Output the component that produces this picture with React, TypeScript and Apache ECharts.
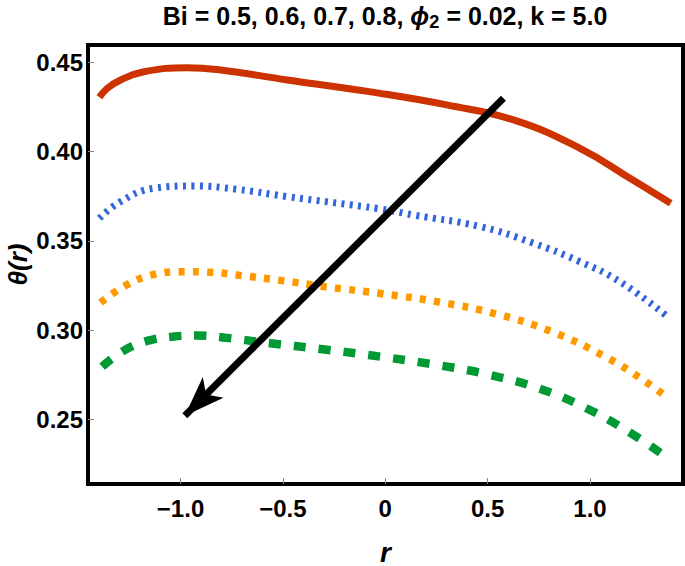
import { useEffect, useRef } from "react";
import * as echarts from "echarts";

// Bi = 0.5 (red, solid)
const rBi05 = [-1.396, -1.358, -1.293, -1.179, -0.968, -0.805, -0.479, -0.025, 0.3, 0.626, 0.951, 1.195, 1.394];
const thetaBi05 = [0.4305, 0.4355, 0.4402, 0.4448, 0.4471, 0.4458, 0.4402, 0.4327, 0.4262, 0.4178, 0.4019, 0.3851, 0.3711];
// Bi = 0.6 (blue, dotted)
const rBi06 = [-1.396, -1.293, -1.13, -0.935, -0.724, -0.479, -0.024, 0.137, 0.463, 0.723, 0.951, 1.146, 1.382];
const thetaBi06 = [0.3627, 0.372, 0.3795, 0.3808, 0.3789, 0.3748, 0.3679, 0.3645, 0.358, 0.3487, 0.3383, 0.3271, 0.3072];
// Bi = 0.7 (orange, dotted)
const rBi07 = [-1.391, -1.269, -1.139, -0.992, -0.854, -0.715, -0.504, -0.292, -0.016, 0.268, 0.544, 0.813, 1.073, 1.26, 1.382];
const thetaBi07 = [0.3154, 0.3249, 0.3309, 0.3327, 0.3324, 0.3307, 0.3277, 0.3243, 0.3204, 0.3156, 0.309, 0.2991, 0.2851, 0.272, 0.2618];
// Bi = 0.8 (green, dashed)
const rBi08 = [-1.383, -1.277, -1.163, -1.041, -0.919, -0.805, -0.561, -0.317, -0.081, 0.276, 0.512, 0.748, 0.976, 1.195, 1.391];
const thetaBi08 = [0.2795, 0.2885, 0.2939, 0.2963, 0.2969, 0.296, 0.2926, 0.2894, 0.286, 0.28, 0.2748, 0.2674, 0.2565, 0.2425, 0.2272];

const xTicks = [-1, -0.5, 0, 0.5, 1];
const yTicks = [0.25, 0.3, 0.35, 0.4, 0.45];
const xRange = [-1.452, 1.454];
const yRange = [0.2137, 0.4598];
const arrowFrom = [0.577, 0.4299];
const arrowTo = [-0.979, 0.252];

const FONT = '"Liberation Sans", Arial, sans-serif';

const zip = (r: number[], t: number[]) => r.map((v, i) => [v, t[i]]);
const fmtX = (v: number) => (Math.abs(v) < 1e-9 ? "0" : (v < 0 ? "\u2212" : "") + Math.abs(v).toFixed(1));

export default function App() {
  const ref = useRef<HTMLDivElement>(null);
  useEffect(() => {
    document.body.style.margin = "0";
    const chart = echarts.init(ref.current!, null, { renderer: "svg" });
    chart.setOption({
      animation: false,
      backgroundColor: "#fff",
      grid: {
        left: 88,
        right: 2,
        top: 45,
        bottom: 82,
        show: true,
        borderColor: "#000",
        borderWidth: 4,
        backgroundColor: "transparent",
        outerBoundsMode: "none",
        containLabel: false,
      },
      graphic: [
        {
          type: "text",
          x: 385,
          y: 16,
          scaleX: 0.96,
          style: {
            text: "{a|Bi = 0.5, 0.6, 0.7, 0.8, }{p|\u03D5}{s|2}{a| = 0.02, k = 5.0}",
            align: "center",
            verticalAlign: "middle",
            rich: {
              a: { fontFamily: FONT, fontWeight: "bold", fontSize: 26, fill: "#000" },
              p: { fontFamily: FONT, fontWeight: "bold", fontStyle: "italic", fontSize: 26, fill: "#000" },
              s: { fontFamily: FONT, fontWeight: "bold", fontSize: 19, fill: "#000", padding: [11, 0, 0, 0] },
            },
          },
        },
      ],
      xAxis: {
        type: "value",
        min: xRange[0],
        max: xRange[1],
        name: "r",
        nameLocation: "middle",
        nameGap: 54,
        nameTextStyle: { fontFamily: FONT, fontStyle: "italic", fontWeight: "bold", fontSize: 28, color: "#000" },
        axisLine: { show: false, onZero: false },
        splitLine: { show: false },
        axisTick: {
          show: true,
          inside: true,
          length: 6,
          customValues: xTicks,
          lineStyle: { color: "#888", width: 1 },
        },
        axisLabel: {
          customValues: xTicks,
          formatter: fmtX,
          margin: 12,
          fontFamily: FONT,
          fontWeight: "bold",
          fontSize: 24,
          color: "#000",
        },
      },
      yAxis: {
        type: "value",
        min: yRange[0],
        max: yRange[1],
        name: "\u03B8(r)",
        nameLocation: "middle",
        nameGap: 57,
        nameMoveOverlap: false,
        nameRotate: 90,
        nameTextStyle: { fontFamily: FONT, fontStyle: "italic", fontWeight: "bold", fontSize: 26, color: "#000", lineHeight: 26 },
        axisLine: { show: false, onZero: false },
        splitLine: { show: false },
        axisTick: {
          show: true,
          inside: true,
          length: 6,
          customValues: yTicks,
          lineStyle: { color: "#888", width: 1 },
        },
        axisLabel: {
          customValues: yTicks,
          formatter: (v: number) => v.toFixed(2),
          margin: 5,
          fontFamily: FONT,
          fontWeight: "bold",
          fontSize: 24,
          color: "#000",
        },
      },
      series: [
        {
          type: "line",
          data: zip(rBi05, thetaBi05),
          smooth: 0.45,
          showSymbol: false,
          lineStyle: { color: "#CC3300", width: 7 },
          z: 2,
          markLine: {
            silent: true,
            symbol: ["none", "arrow"],
            symbolSize: [22, 40],
            label: { show: false },
            itemStyle: { color: "#000" },
            lineStyle: { color: "#000", width: 7, type: "solid" },
            emphasis: { disabled: true },
            data: [[{ coord: arrowFrom }, { coord: arrowTo }]],
          },
        },
        {
          type: "line",
          data: zip(rBi06, thetaBi06),
          smooth: 0.45,
          showSymbol: false,
          lineStyle: { color: "#3366DD", width: 7, type: [3, 5.4] },
        },
        {
          type: "line",
          data: zip(rBi07, thetaBi07),
          smooth: 0.45,
          showSymbol: false,
          lineStyle: { color: "#FF9900", width: 7.5, type: [6, 8.3] },
        },
        {
          type: "line",
          data: zip(rBi08, thetaBi08),
          smooth: 0.45,
          showSymbol: false,
          lineStyle: { color: "#009933", width: 8.5, type: [12, 13] },
        },
      ],
    });
    return () => chart.dispose();
  }, []);
  return <div ref={ref} style={{ width: 685, height: 566 }} />;
}
